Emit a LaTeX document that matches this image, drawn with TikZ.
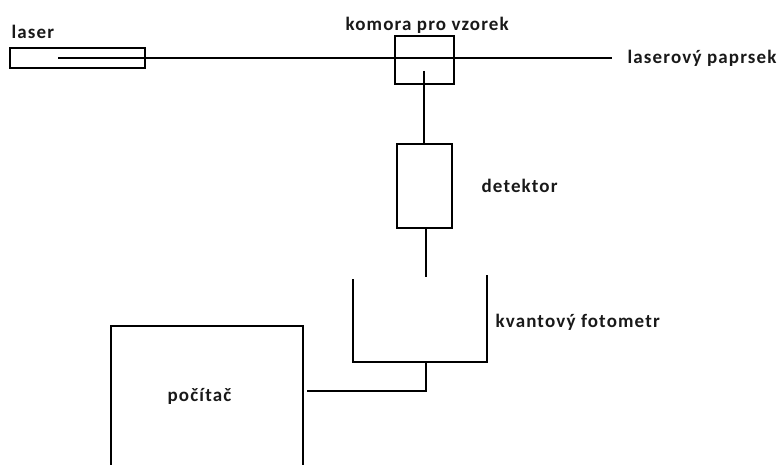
\documentclass[tikz,border=0pt]{standalone}
\usepackage{fontspec}
\setmainfont[LetterSpace=6]{Carlito}
\begin{document}
\begin{tikzpicture}[x=1pt,y=-1pt,line width=1.3pt,
  lbl/.style={font=\fontsize{19}{22}\selectfont\bfseries, inner sep=0pt, anchor=west, text=black!90},
  box/.style={draw}]
\useasboundingbox (0,0) rectangle (781,465);
% laser
\draw[box] (10,48) rectangle (145,68);
\node[lbl] (laserlbl) at (11,32) {laser};
\coordinate (beamstart) at (58,58);
\coordinate (beamend) at (612,58);
\draw (beamstart) -- (beamend);
\node[lbl] (beamlbl) at (627,58) {laserový paprsek};
% chamber
\draw[box] (395,36) rectangle (454,84);
\coordinate (chin) at (424,71);
\node[lbl] (chlbl) at (345,25) {komora pro vzorek};
% detector
\draw[box] (397,144) rectangle (452,228);
\coordinate (dettop) at (424,144);
\coordinate (detbot) at (426,228);
\coordinate (detend) at (426,277);
\draw (chin) -- (dettop);
\draw (detbot) -- (detend);
\node[lbl] (detlbl) at (481,186) {detektor};
% photometer
\draw (353,279) -- (353,362) -- (487,362) -- (487,275);
\node[lbl] (fotolbl) at (495,322) {kvantový fotometr};
\coordinate (fotobot) at (426,362);
\coordinate (pcconn) at (307,391);
\draw (fotobot) -- (426,391) -- (pcconn);
% computer
\draw (111,465) -- (111,326) -- (303,326) -- (303,465);
\node[lbl] (pclbl) at (167,396) {počítač};
\end{tikzpicture}
\end{document}
